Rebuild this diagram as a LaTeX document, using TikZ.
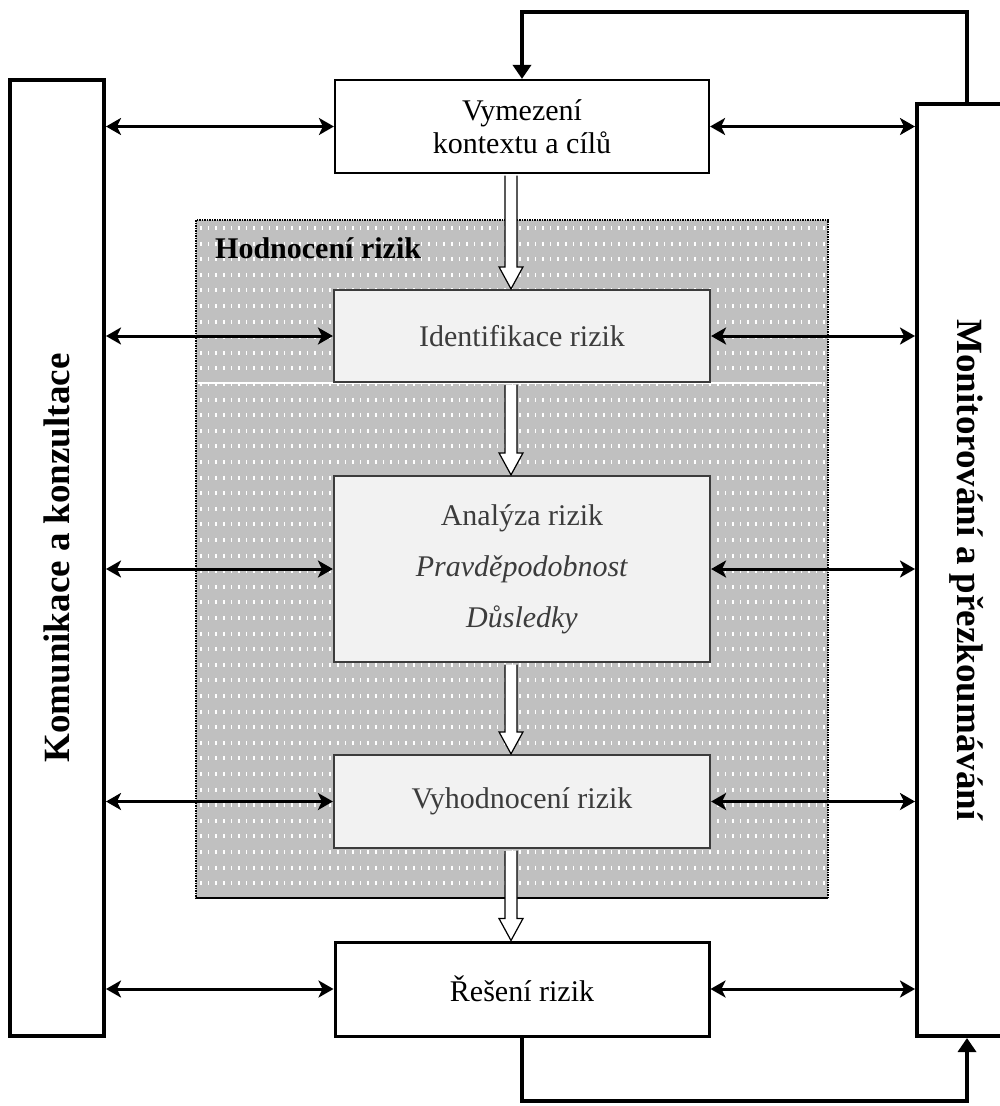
\documentclass[tikz,border=0pt]{standalone}
\usepackage{fontspec}
\setmainfont{Liberation Serif}
\usetikzlibrary{arrows.meta}
\usetikzlibrary{calc}

\definecolor{regiongrey}{RGB}{192,192,192}
\definecolor{stepfill}{RGB}{242,242,242}
\definecolor{stepline}{RGB}{60,60,60}

\tikzset{
  sidebox/.style={draw, line width=4pt, fill=white, inner sep=0pt},
  sidetext/.style={inner sep=0pt, font=\bfseries\fontsize{37}{40}\selectfont},
  mainbox/.style={draw, line width=2.2pt, fill=white, inner sep=0pt, minimum width=374pt, minimum height=93pt, align=center, font=\fontsize{30}{33}\selectfont},
  riskbox/.style={mainbox, draw=stepline, fill=stepfill, text=stepline},
  biarrow/.style={line width=3pt, {Stealth[length=15pt,width=17pt,inset=4pt]}-{Stealth[length=15pt,width=17pt,inset=4pt]}},
  feedback/.style={line width=4.5pt, -{Triangle[length=14pt,width=18pt]}},
  hollow/.style={draw=black, line width=1.2pt, fill=white},
}

% hollow arrow from the bottom of one box to the top of the next
\newcommand{\hollowdown}[2]{%
  \draw[hollow] ($(#1.south)+(-17,1.5)$) -- ($(#2.north)+(-17,-22)$) -- ($(#2.north)+(-23,-22)$)
    -- ($(#2.north)+(-11,0)$) -- ($(#2.north)+(1,-22)$) -- ($(#2.north)+(-5,-22)$)
    -- ($(#1.south)+(-5,1.5)$);}

\begin{document}
\begin{tikzpicture}[x=1pt, y=-1pt]
  \useasboundingbox (0,0) rectangle (1000,1106);

  % risk assessment region
  \fill[regiongrey] (196,220) rectangle (828,898);
  \foreach \col in {201,208.6,...,826}
    \draw[white, line width=1.5pt, dash pattern=on 4pt off 11.6pt] (\col,226) -- (\col,896);
  \draw[white, line width=1.5pt] (198,383) -- (822,383);
  \draw[densely dotted, line width=1.5pt] (196,220) rectangle (828,898);
  \draw[line width=2.5pt] (196,898) -- (828,898);
  \node[anchor=base west, inner sep=0pt, font=\bfseries\fontsize{30}{33}\selectfont] (assesslbl) at (215,258) {Hodnocení rizik};

  % side boxes
  \node[sidebox, minimum width=94pt, minimum height=956pt] (komu) at (57,558) {};
  \node[sidetext, rotate=90] (komutext) at (komu.center) {Komunikace a konzultace};
  \node[sidebox, minimum width=100pt, minimum height=932pt] (mon) at (967,570) {};
  \node[sidetext, rotate=-90] (montext) at (mon.center) {Monitorování a přezkoumávání};

  % process steps
  \node[mainbox] (ctx) at (522,126.5) {Vymezení\\kontextu a cílů};
  \node[riskbox, minimum width=376pt, minimum height=92pt] (ident) at (522,336) {Identifikace rizik};
  \node[riskbox, minimum width=376pt, minimum height=186pt, font=\fontsize{30}{51}\selectfont] (analysis) at (522,569) {Analýza rizik\\\textit{Pravděpodobnost}\\\textit{Důsledky}};
  \node[riskbox, minimum width=376pt] (evalr) at (522,801.5) {Vyhodnocení rizik};
  \node[mainbox, line width=3pt, minimum height=94pt] (treat) at (522,989) {Řešení rizik};

  \hollowdown{ctx}{ident}
  \hollowdown{ident}{analysis}
  \hollowdown{analysis}{evalr}
  \hollowdown{evalr}{treat}

  % links to both sides
  \foreach \step in {ctx, ident, analysis, evalr, treat} {
    \draw[biarrow] (\step.west -| komu.east) -- (\step.west);
    \draw[biarrow] (\step.east) -- (\step.east -| mon.west);
  }

  % feedback loops
  \coordinate (loopTop) at (522,12);
  \coordinate (loopBot) at (522,1101);
  \draw[feedback] (mon.north) |- (loopTop) -- (ctx.north);
  \draw[feedback] (treat.south) -- (loopBot) -| (mon.south);
\end{tikzpicture}
\end{document}
